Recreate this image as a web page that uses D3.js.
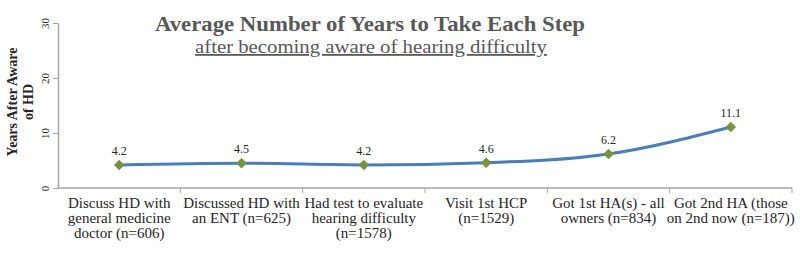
<!DOCTYPE html>
<html>
<head>
<meta charset="utf-8">
<script src="https://cdn.jsdelivr.net/npm/d3@7"></script>
<style>
  body { margin: 0; background: #fff; }
  svg { display: block; }
</style>
</head>
<body>
<div id="chart"></div>
<script>
// data
var categories = [
  ["Discuss HD with", "general medicine", "doctor (n=606)"],
  ["Discussed HD with", "an ENT (n=625)"],
  ["Had test to evaluate", "hearing difficulty", "(n=1578)"],
  ["Visit 1st HCP", "(n=1529)"],
  ["Got 1st HA(s) - all", "owners (n=834)"],
  ["Got 2nd HA (those", "on 2nd now (n=187))"]
];
var years = [4.2, 4.5, 4.2, 4.6, 6.2, 11.1];
var yTicks = [0, 10, 20, 30];

var serif = "'Liberation Serif', 'Times New Roman', serif";

var svg = d3.select("#chart").append("svg")
    .attr("width", 800)
    .attr("height", 259);

var x = d3.scaleBand()
    .domain(d3.range(categories.length))
    .range([58, 792]);
var y = d3.scaleLinear()
    .domain([0, 30])
    .range([188, 23]);

// 标题
svg.append("text")
    .attr("x", 370)
    .attr("y", 31)
    .style("text-anchor", "middle")
    .style("font-family", serif)
    .style("font-weight", "bold")
    .style("font-size", "21px")
    .attr("textLength", 430)
    .attr("lengthAdjust", "spacingAndGlyphs")
    .attr("fill", "#595959")
    .text("Average Number of Years to Take Each Step");

svg.append("text")
    .attr("x", 371)
    .attr("y", 53)
    .style("text-anchor", "middle")
    .style("font-family", serif)
    .style("font-size", "18px")
    .style("text-decoration", "underline")
    .attr("textLength", 352)
    .attr("lengthAdjust", "spacingAndGlyphs")
    .attr("fill", "#595959")
    .text("after becoming aware of hearing difficulty");

// y 轴
var yAxis = svg.append("g")
    .attr("transform", "translate(58,0)")
    .call(d3.axisLeft(y).tickValues(yTicks).tickSize(5).tickSizeOuter(0));
yAxis.select(".domain").attr("stroke", "#a6a6a6").attr("stroke-width", 1.5);
yAxis.selectAll(".tick line").attr("stroke", "#a6a6a6");
yAxis.selectAll(".tick text")
    .attr("x", null).attr("dy", null)
    .attr("transform", "translate(-13,0) rotate(-90)")
    .style("text-anchor", "middle")
    .attr("dy", "0.32em")
    .style("font-family", serif)
    .style("font-size", "11px")
    .attr("fill", "#262626");

// x 轴
var xAxis = svg.append("g")
    .attr("transform", "translate(0,188)");
xAxis.append("line")
    .attr("x1", x.range()[0]).attr("x2", x.range()[1])
    .attr("stroke", "#a6a6a6").attr("stroke-width", 1.5);
xAxis.selectAll(".tk")
    .data(d3.range(1, categories.length + 1))
    .enter().append("line")
    .attr("x1", d => x(0) + d * x.bandwidth())
    .attr("x2", d => x(0) + d * x.bandwidth())
    .attr("y1", 0).attr("y2", 5)
    .attr("stroke", "#a6a6a6");

xAxis.selectAll(".lbl")
    .data(categories)
    .enter().append("text")
    .attr("x", (d, i) => x(i) + x.bandwidth() / 2)
    .attr("y", 20)
    .style("text-anchor", "middle")
    .style("font-family", serif)
    .style("font-size", "15px")
    .attr("fill", "#262626")
    .each(function(d) {
      var t = d3.select(this);
      d.forEach((s, k) => {
        t.append("tspan")
          .attr("x", t.attr("x"))
          .attr("dy", k === 0 ? 0 : 15)
          .text(s);
      });
    });

// y 轴标题
var yt = svg.append("text")
    .attr("transform", "translate(0,102) rotate(-90)")
    .style("text-anchor", "middle")
    .style("font-family", serif)
    .style("font-weight", "bold")
    .style("font-size", "14px")
    .attr("fill", "#262626");
yt.append("tspan").attr("x", 0).attr("y", 17).text("Years After Aware");
yt.append("tspan").attr("x", 0).attr("y", 33).text("of HD");

// 折线
var line = d3.line()
    .x((d, i) => x(i) + x.bandwidth() / 2)
    .y(d => y(d))
    .curve(d3.curveMonotoneX);

svg.append("path")
    .datum(years)
    .attr("d", line)
    .attr("fill", "none")
    .attr("stroke", "#4a7ebb")
    .attr("stroke-width", 3);

svg.selectAll(".pt")
    .data(years)
    .enter().append("path")
    .attr("d", d3.symbol().type(d3.symbolDiamond2).size(70))
    .attr("transform", (d, i) => "translate(" + (x(i) + x.bandwidth() / 2) + "," + y(d) + ")")
    .attr("fill", "#77933c");

svg.selectAll(".val")
    .data(years)
    .enter().append("text")
    .attr("x", (d, i) => x(i) + x.bandwidth() / 2)
    .attr("y", d => y(d) - 10)
    .style("text-anchor", "middle")
    .style("font-family", serif)
    .style("font-size", "12px")
    .attr("fill", "#262626")
    .text(d => d.toFixed(1));
</script>
</body>
</html>
